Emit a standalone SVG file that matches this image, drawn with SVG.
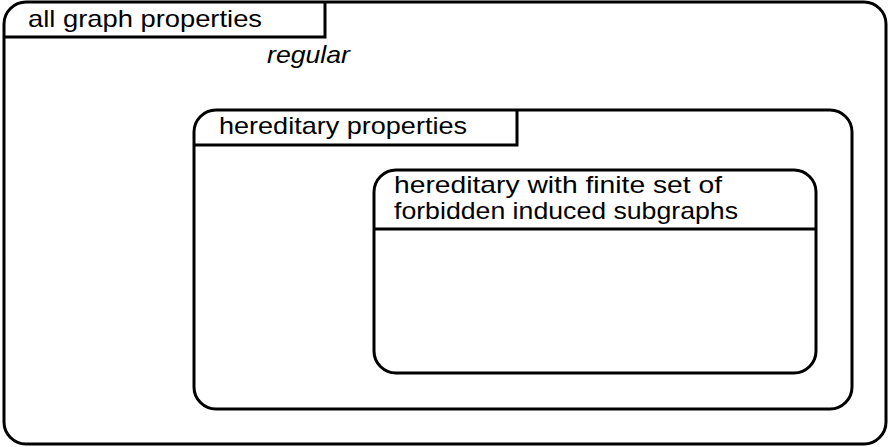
<svg xmlns="http://www.w3.org/2000/svg" width="889" height="447" viewBox="0 0 889 447">
<style>
.box{fill:none;stroke:#000;stroke-width:3}
.t{font-family:"Liberation Sans",Arial,sans-serif;font-size:24px;fill:#000}
.i{font-style:italic}
</style>
<rect width="889" height="447" fill="#fff"/>
<g id="all">
<rect class="box" x="4" y="2" width="882" height="442" rx="22" ry="22"/>
<path class="box" d="M4,37 H325 V2"/>
<text class="t" x="28" y="27" textLength="234" lengthAdjust="spacingAndGlyphs">all graph properties</text>
<text class="t i" x="267" y="63" textLength="83" lengthAdjust="spacingAndGlyphs">regular</text>
</g>
<g id="hereditary">
<rect class="box" x="194" y="110" width="658" height="299" rx="22" ry="22"/>
<path class="box" d="M194,145 H517 V110"/>
<text class="t" x="219" y="134" textLength="248" lengthAdjust="spacingAndGlyphs">hereditary properties</text>
</g>
<g id="finite">
<rect class="box" x="374" y="170" width="442" height="203" rx="22" ry="22"/>
<path class="box" d="M374,229 H816"/>
<text class="t" x="394" y="193" textLength="328" lengthAdjust="spacingAndGlyphs">hereditary with finite set of</text>
<text class="t" x="394" y="219" textLength="344" lengthAdjust="spacingAndGlyphs">forbidden induced subgraphs</text>
</g>
<g id="connectors"/>
</svg>
